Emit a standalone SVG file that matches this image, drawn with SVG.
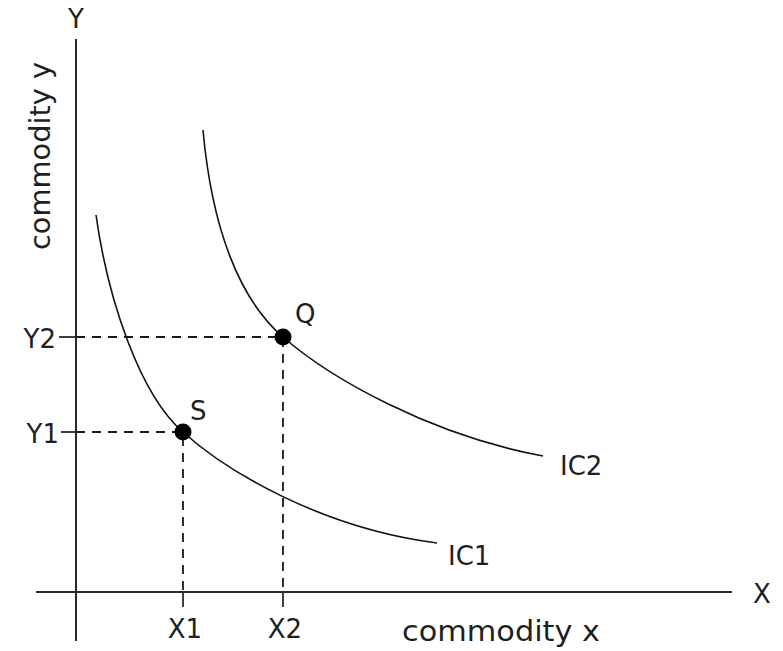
<svg xmlns="http://www.w3.org/2000/svg" width="783" height="651" viewBox="0 0 783 651">
<style>
.axis{stroke:#2a2a2a;stroke-width:2;fill:none}
.tick{stroke:#2a2a2a;stroke-width:1.8;fill:none}
.dash{stroke:#1a1a1a;stroke-width:1.8;stroke-dasharray:9 7;fill:none}
.curve{stroke:#111;stroke-width:1.6;fill:none}
.lbl{font-family:"DejaVu Sans","Liberation Sans",sans-serif;font-size:26px;fill:#1f1f1f}
.big{font-family:"DejaVu Sans","Liberation Sans",sans-serif;font-size:29px;fill:#1f1f1f}
.dot{fill:#000}
</style>
<rect width="783" height="651" fill="#fff"/>
<g id="axes">
<line class="axis" x1="76" y1="39" x2="76" y2="641"/>
<line class="axis" x1="36" y1="592" x2="732" y2="592"/>
<line class="tick" x1="59" y1="337" x2="76" y2="337"/>
<line class="tick" x1="61" y1="432" x2="76" y2="432"/>
<line class="tick" x1="183" y1="592" x2="183" y2="607"/>
<line class="tick" x1="283" y1="592" x2="283" y2="607"/>
<text class="lbl" x="76" y="28" text-anchor="middle">Y</text>
<text class="lbl" x="762" y="603" text-anchor="middle">X</text>
<text class="lbl" x="56" y="348" text-anchor="end">Y2</text>
<text class="lbl" x="59" y="443" text-anchor="end">Y1</text>
<text class="lbl" x="185" y="638" text-anchor="middle">X1</text>
<text class="lbl" x="285" y="638" text-anchor="middle">X2</text>
<text class="big" x="402" y="641" textLength="198" lengthAdjust="spacingAndGlyphs">commodity x</text>
<text class="big" transform="translate(50,156) rotate(-90)" text-anchor="middle" textLength="188" lengthAdjust="spacingAndGlyphs">commodity y</text>
</g>
<g id="connectors">
<path class="dash" d="M76,337 H283 V592"/>
<path class="dash" d="M76,432 H183 V592"/>
</g>
<g id="IC1">
<path class="curve" d="M96,215 C108,300 140,395 183,432 C225,470 320,528 437,543"/>
<text class="lbl" x="448" y="565">IC1</text>
</g>
<g id="IC2">
<path class="curve" d="M203,130 C212,230 240,300 283,337 C330,378 430,435 543,456"/>
<text class="lbl" x="560" y="475">IC2</text>
</g>
<g id="S">
<circle class="dot" cx="183" cy="432" r="8.5"/>
<text class="lbl" x="190" y="420">S</text>
</g>
<g id="Q">
<circle class="dot" cx="283" cy="337" r="8.5"/>
<text class="lbl" x="295" y="323">Q</text>
</g>
</svg>
